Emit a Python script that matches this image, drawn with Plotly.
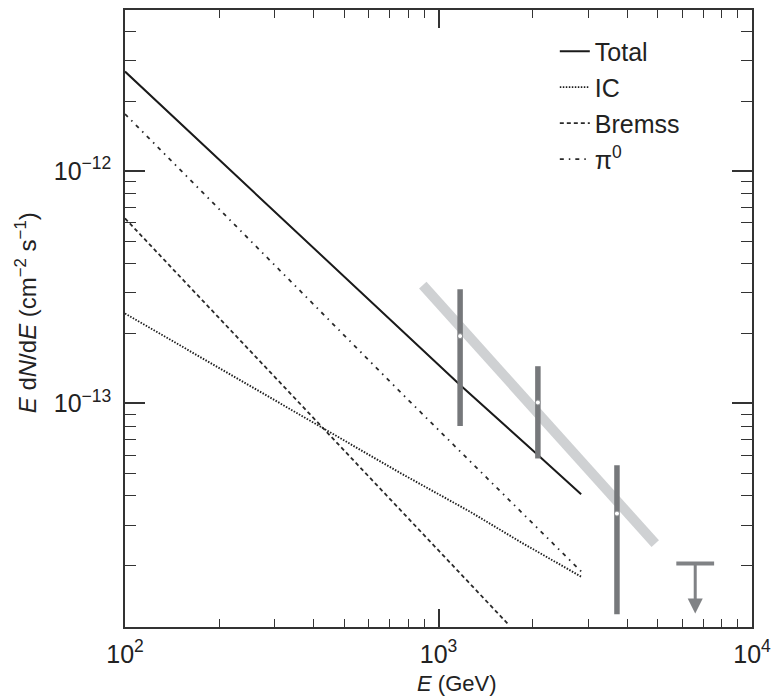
import numpy as np
import plotly.graph_objects as go

# ---- model curves ----
E_total = [100, 1172, 2075, 2851]
F_total = [2.68e-12, 1.20e-13, 6.0e-14, 4.07e-14]

E_ic = [100, 760, 1262, 1822, 2868]
F_ic = [2.44e-13, 5.0e-14, 3.42e-14, 2.54e-14, 1.79e-14]

E_brems = [100, 760, 1661]
F_brems = [6.26e-13, 3.47e-14, 1.13e-14]

E_pi0 = [100, 773, 2902]
F_pi0 = [1.76e-12, 1.086e-13, 1.85e-14]

# ---- measured points ----
E_pts = [1172, 2075, 3709]
F_pts = [1.95e-13, 1.01e-13, 3.36e-14]
F_up = [3.10e-13, 1.447e-13, 5.43e-14]
F_lo = [8.01e-14, 5.80e-14, 1.24e-14]

# upper limit
E_ul = [6590]
F_ul = [2.05e-14]
F_ul_tip = [1.25e-14]

# fitted band
E_band = [891, 4913]
F_band = [3.23e-13, 2.495e-14]

FONT = "Liberation Sans, Arial, Helvetica, sans-serif"
INK = "#222222"
BAR = "#76787b"

fig = go.Figure()

fig.add_trace(go.Scatter(x=E_band, y=F_band, mode="lines",
                         line=dict(color="#cfd1d3", width=10),
                         showlegend=False, hoverinfo="skip"))

fig.add_trace(go.Scatter(x=E_total, y=F_total, mode="lines", name="Total",
                         legendgroup="a",
                         line=dict(color="#1a1a1a", width=2)))
fig.add_trace(go.Scatter(x=E_ic, y=F_ic, mode="lines", name="IC",
                         legendgroup="b",
                         line=dict(color="#1e1e1e", width=1.9, dash="1.5px,1.5px")))
fig.add_trace(go.Scatter(x=E_brems, y=F_brems, mode="lines", name="Bremss",
                         legendgroup="c",
                         line=dict(color="#2a2a2a", width=1.8, dash="4px,3px")))
fig.add_trace(go.Scatter(x=E_pi0, y=F_pi0, mode="lines", name="π<sup>0</sup>",
                         legendgroup="d",
                         line=dict(color="#2a2a2a", width=1.8, dash="4px,5px,1.5px,5px")))

up = [u - f for u, f in zip(F_up, F_pts)]
lo = [f - l for l, f in zip(F_lo, F_pts)]
fig.add_trace(go.Scatter(x=E_pts, y=F_pts, mode="markers",
                         marker=dict(symbol="circle", size=5, color="white",
                                     line=dict(color="#8a8c8f", width=1)),
                         error_y=dict(type="data", symmetric=False, array=up,
                                      arrayminus=lo, thickness=5.5, width=0,
                                      color=BAR),
                         showlegend=False))

fig.add_trace(go.Scatter(x=E_ul, y=F_ul, mode="markers",
                         marker=dict(symbol="line-ew", size=27,
                                     line=dict(color="#808285", width=4)),
                         showlegend=False))
fig.add_annotation(x=np.log10(E_ul[0]), y=np.log10(F_ul_tip[0]),
                   ax=np.log10(E_ul[0]), ay=np.log10(F_ul[0]),
                   xref="x", yref="y", axref="x", ayref="y",
                   text="", showarrow=True, arrowhead=2, arrowsize=1,
                   arrowwidth=3, arrowcolor="#808285")

axis_common = dict(type="log", showline=True, linecolor="#333333", linewidth=1.5,
                   mirror="ticks", ticks="inside", tickcolor="#333333",
                   tickwidth=1.5, showgrid=False, zeroline=False,
                   exponentformat="power", dtick=1, automargin=False,
                   tickfont=dict(family=FONT, size=20, color=INK))

fig.update_xaxes(range=[2, 4], ticklen=18,
                 minor=dict(ticks="inside", ticklen=8, dtick="D1",
                            tickcolor="#333333", tickwidth=1.2, showgrid=False),
                 ticklabelstandoff=5, **axis_common)
fig.update_yaxes(range=[-13.9617, -11.3069], ticklen=20,
                 minor=dict(ticks="inside", ticklen=11, dtick="D1",
                            tickcolor="#333333", tickwidth=1.2, showgrid=False),
                 ticklabelstandoff=8, **axis_common)

fig.add_annotation(text="<i>E</i> (GeV)", xref="paper", yref="paper",
                   x=0.5295, y=-0.091, xanchor="center", yanchor="middle",
                   showarrow=False, font=dict(family=FONT, size=22, color=INK))
fig.add_annotation(text="<i>E</i> d<i>N</i>/d<i>E</i> (cm<sup>−2</sup> s<sup>−1</sup>)",
                   xref="paper", yref="paper", x=-0.158, y=0.51,
                   xanchor="center", yanchor="middle", textangle=-90,
                   showarrow=False, font=dict(family=FONT, size=24, color=INK))

fig.update_layout(
    template="none",
    width=774, height=698,
    margin=dict(l=125, r=22, t=10, b=71, autoexpand=False),
    paper_bgcolor="white", plot_bgcolor="white",
    font=dict(family=FONT, color=INK),
    legend=dict(x=0.6855, y=0.9702, xanchor="left", yanchor="top",
                bgcolor="rgba(0,0,0,0)", borderwidth=0,
                font=dict(family=FONT, size=25, color=INK),
                tracegroupgap=0.5),
)

# remove the default 8px page margin so the figure fills the window exactly
fig.write_html("out.html",
               config={"displayModeBar": False},
               post_script="document.body.style.margin='0px';"
                           "document.body.style.overflow='hidden';")
